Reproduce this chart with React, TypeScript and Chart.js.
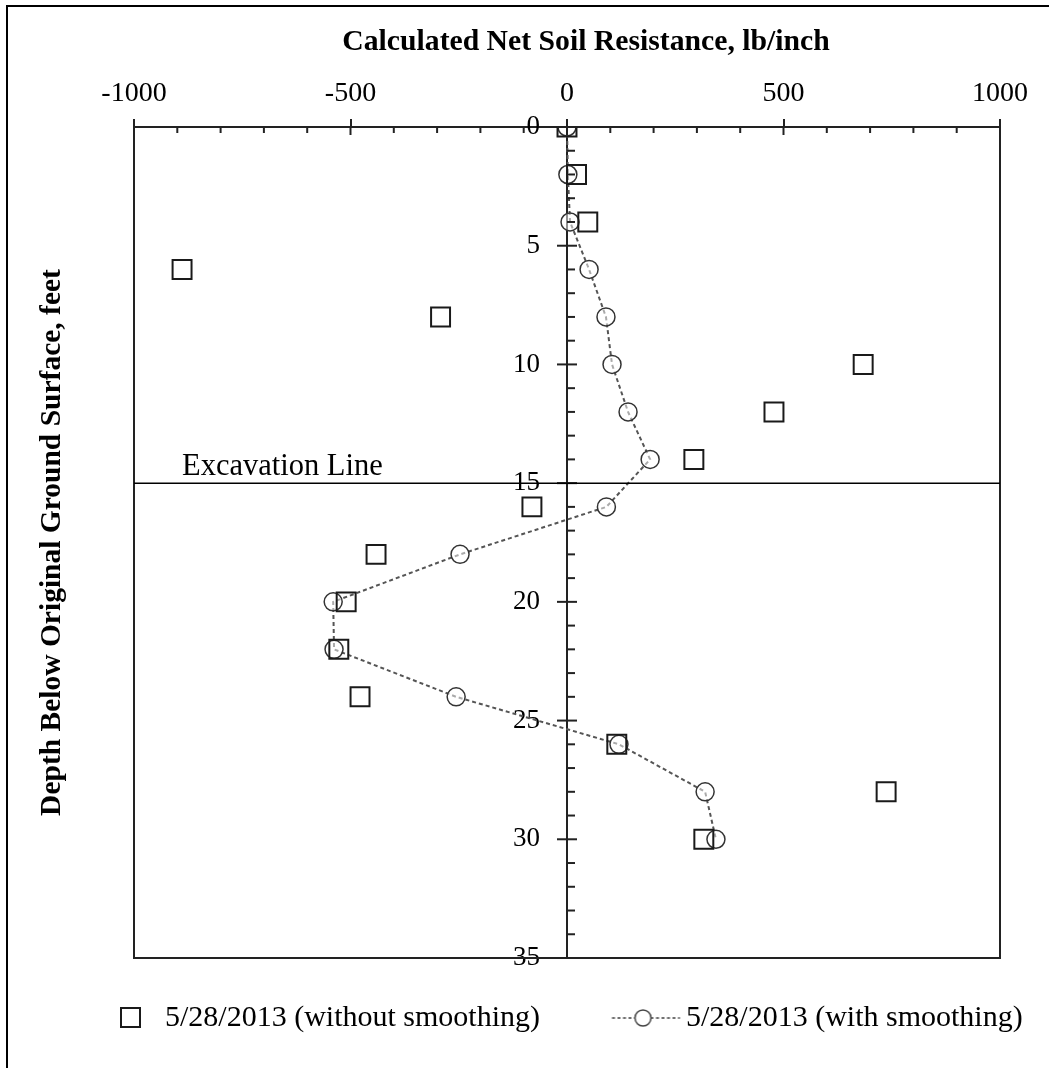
import React, { useEffect, useRef } from "react";
import { Chart, registerables } from "chart.js";

Chart.register(...registerables);

// ---- data ----
const depths = [0, 2, 4, 6, 8, 10, 12, 14, 16, 18, 20, 22, 24, 26, 28, 30];
const withoutSmoothing = [0, 22, 48, -889, -292, 684, 478, 293, -81, -441, -510, -527, -478, 115, 737, 316];
const withSmoothing = [0, 2, 7, 51, 90, 104, 141, 192, 91, -247, -540, -538, -256, 120, 319, 344];
const xTickStep = 500;
const yTickStep = 5;
const excavationDepth = 15;

const titleText = "Calculated Net Soil Resistance, lb/inch";
const yTitleText = "Depth Below Original Ground Surface, feet";
const excavationText = "Excavation Line";
const legendLabels = ["5/28/2013 (without smoothing)", "5/28/2013 (with smoothing)"];

const FONT = "'Liberation Serif', 'Times New Roman', serif";

function makeIcons() {
  const a = document.createElement("canvas");
  a.width = 121;
  a.height = 30;
  const ca = a.getContext("2d")!;
  ca.strokeStyle = "#1a1a1a";
  ca.lineWidth = 2;
  ca.strokeRect(101.5 - 9.5, 14.5 - 9.5, 19, 19);

  const b = document.createElement("canvas");
  b.width = 144;
  b.height = 30;
  const cb = b.getContext("2d")!;
  cb.strokeStyle = "#444";
  cb.lineWidth = 1.5;
  cb.setLineDash([3, 2.5]);
  cb.beginPath();
  cb.moveTo(73.5, 15);
  cb.lineTo(141.5, 15);
  cb.stroke();
  cb.setLineDash([]);
  cb.fillStyle = "#fff";
  cb.beginPath();
  cb.arc(104.5, 15, 8, 0, Math.PI * 2);
  cb.fill();
  cb.strokeStyle = "#444";
  cb.stroke();
  return [a, b];
}

const decor = {
  id: "decor",
  afterDraw(chart: any) {
    const { ctx, chartArea: a, scales } = chart;
    const xs = scales.x;
    const ys = scales.y;
    const line = (x1: number, y1: number, x2: number, y2: number) => {
      ctx.beginPath();
      ctx.moveTo(x1, y1);
      ctx.lineTo(x2, y2);
      ctx.stroke();
    };
    ctx.save();
    // outer frame
    ctx.strokeStyle = "#000";
    ctx.lineWidth = 2;
    ctx.beginPath();
    ctx.moveTo(7, 1068);
    ctx.lineTo(7, 6);
    ctx.lineTo(1049, 6);
    ctx.stroke();
    // plot box
    ctx.strokeStyle = "#222";
    ctx.lineWidth = 2;
    ctx.beginPath();
    ctx.moveTo(a.left, a.top - 8);
    ctx.lineTo(a.left, a.bottom);
    ctx.lineTo(a.right, a.bottom);
    ctx.lineTo(a.right, a.top - 8);
    ctx.stroke();
    // top axis inward ticks
    for (let v = xs.min; v <= xs.max; v += 100) {
      const px = xs.getPixelForValue(v);
      line(px, a.top, px, a.top + (v % xTickStep === 0 ? 8 : 6));
    }
    // centre axis ticks
    const x0 = xs.getPixelForValue(0);
    for (let d = ys.min; d <= ys.max; d += 1) {
      const py = ys.getPixelForValue(d);
      if (d % yTickStep === 0) line(x0 - 10, py, x0 + 10, py);
      else line(x0, py, x0 + 8, py);
    }
    // excavation line
    ctx.strokeStyle = "#000";
    ctx.lineWidth = 1.5;
    const ey = ys.getPixelForValue(excavationDepth);
    line(a.left, ey, a.right, ey);
    ctx.fillStyle = "#000";
    ctx.font = `30.5px ${FONT}`;
    ctx.textAlign = "left";
    ctx.textBaseline = "alphabetic";
    ctx.fillText(excavationText, 182, ey - 8);
    // title
    ctx.font = `bold 29.7px ${FONT}`;
    ctx.textAlign = "center";
    ctx.fillText(titleText, 586, 50);
    ctx.restore();
  },
};

export default function App() {
  const ref = useRef<HTMLCanvasElement>(null);
  useEffect(() => {
    const canvas = ref.current!;
    const icons = makeIcons();
    const chart = new Chart(canvas, {
      type: "scatter",
      data: {
        datasets: [
          {
            label: legendLabels[0],
            data: depths.map((d, i) => ({ x: withoutSmoothing[i], y: d })),
            showLine: false,
            pointStyle: "rect",
            pointRadius: 13.4,
            pointBorderColor: "#1a1a1a",
            pointBorderWidth: 2,
            pointBackgroundColor: "rgba(0,0,0,0)",
            xAxisID: "x",
            yAxisID: "y",
          },
          {
            label: legendLabels[1],
            data: depths.map((d, i) => ({ x: withSmoothing[i], y: d })),
            showLine: true,
            borderColor: "#555",
            borderWidth: 2,
            borderDash: [4, 3],
            pointStyle: "circle",
            pointRadius: 9,
            pointBorderColor: "#333",
            pointBorderWidth: 1.5,
            pointBackgroundColor: "rgba(255,255,255,0.5)",
            tension: 0,
            xAxisID: "x",
            yAxisID: "y",
          },
        ],
      },
      options: {
        responsive: false,
        animation: false,
        events: [],
        layout: { padding: { left: 19, right: 0, top: 0, bottom: 25 } },
        scales: {
          x: {
            type: "linear",
            position: "top",
            fullSize: false,
            min: -1000,
            max: 1000,
            ticks: {
              stepSize: xTickStep,
              color: "#000",
              font: { family: FONT, size: 28 },
              padding: 9,
              maxRotation: 0,
              autoSkip: false,
              callback: (v: any) => String(v),
            },
            grid: {
              display: true,
              drawOnChartArea: false,
              drawTicks: true,
              tickLength: 8,
              color: "#222",
              lineWidth: 2,
            },
            border: { display: true, color: "#222", width: 2 },
            afterFit: (s: any) => {
              s.height = 127;
            },
          },
          xGap: {
            type: "linear",
            axis: "x",
            position: "bottom",
            fullSize: false,
            display: true,
            ticks: { display: false },
            grid: { display: false },
            border: { display: false },
            afterFit: (s: any) => {
              s.height = 35;
            },
          },
          y: {
            type: "linear",
            position: { x: 0 } as any,
            reverse: true,
            min: 0,
            max: 35,
            ticks: {
              stepSize: yTickStep,
              color: "#000",
              font: { family: FONT, size: 27 },
              autoSkip: false,
              callback: (v: any) => String(v) + "\u2007\u2007",
            },
            grid: {
              display: false,
              drawOnChartArea: false,
            },
            border: { display: true, color: "#222", width: 2 },
          },
          y2: {
            type: "linear",
            position: "left",
            fullSize: false,
            display: true,
            ticks: { display: false },
            grid: { display: false },
            border: { display: false },
            title: {
              display: true,
              text: yTitleText,
              color: "#000",
              font: { family: FONT, size: 29.5, weight: "bold" },
              padding: { top: 16, bottom: 0 },
            },
            afterFit: (s: any) => {
              s.width = 115;
            },
          },
          yRight: {
            type: "linear",
            axis: "y",
            position: "right",
            fullSize: false,
            display: true,
            ticks: { display: false },
            grid: { display: false },
            border: { display: false },
            afterFit: (s: any) => {
              s.width = 49;
            },
          },
        },
        plugins: {
          title: { display: false },
          tooltip: { enabled: false },
          legend: {
            display: true,
            position: "bottom",
            align: "start",
            labels: {
              usePointStyle: true,
              pointStyleWidth: 121,
              padding: 10,
              color: "#000",
              font: { family: FONT, size: 30 },
              generateLabels: () =>
                legendLabels.map((t, i) => ({
                  text: t,
                  pointStyle: icons[i] as any,
                  fillStyle: "rgba(0,0,0,0)",
                  strokeStyle: "rgba(0,0,0,0)",
                  lineWidth: 0,
                  hidden: false,
                  datasetIndex: i,
                  fontColor: "#000",
                })),
            },
          },
        },
      },
      plugins: [decor],
    });
    return () => chart.destroy();
  }, []);
  return (
    <div
      style={{
        position: "absolute",
        left: 0,
        top: 0,
        width: 1049,
        height: 1068,
        overflow: "hidden",
        background: "#fff",
      }}
    >
      <canvas ref={ref} width={1049} height={1068} style={{ display: "block", width: 1049, height: 1068 }} />
    </div>
  );
}
